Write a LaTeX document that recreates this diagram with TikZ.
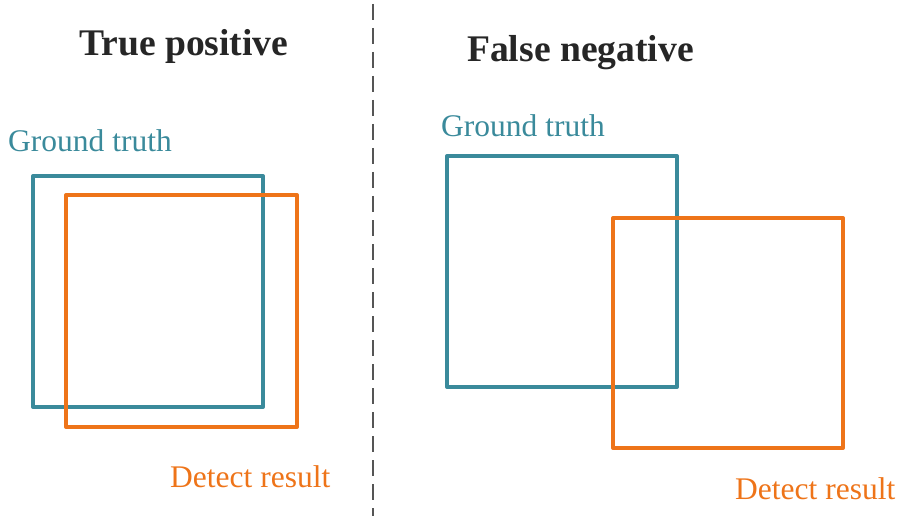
\documentclass[tikz,border=0pt]{standalone}
\usepackage{fontspec}
\setmainfont{Liberation Serif}
\definecolor{gtcol}{HTML}{3A8A9B}
\definecolor{drcol}{HTML}{EE7419}
\definecolor{titlecol}{HTML}{262626}
\definecolor{dashcol}{HTML}{555555}
\tikzset{
  gtbox/.style={draw=gtcol, line width=4pt, line join=round, inner sep=0pt, outer sep=0pt, anchor=north west},
  drbox/.style={draw=drcol, line width=4pt, line join=round, inner sep=0pt, outer sep=0pt, anchor=north west},
  titletext/.style={anchor=base west, inner sep=0pt, text=titlecol, font=\fontsize{37.6}{40}\selectfont\bfseries},
  gtlabel/.style={anchor=base west, inner sep=0pt, text=gtcol, font=\fontsize{31.5}{34}\selectfont},
  drlabel/.style={anchor=base west, inner sep=0pt, text=drcol, font=\fontsize{31.5}{34}\selectfont},
  divider/.style={draw=dashcol, line width=2pt, dash pattern=on 16pt off 8pt}
}
\begin{document}
\begin{tikzpicture}[x=1pt,y=-1pt]
\useasboundingbox (0,0) rectangle (900,516);
% divider
\coordinate (dtop) at (373,4);
\coordinate (dbot) at (373,516);
\draw[divider] (dtop) -- (dbot);
% titles
\node[titletext] (t1) at (79,56) {True positive};
\node[titletext] (t2) at (467,62) {False negative};
% left panel
\node[gtbox, minimum width=230pt, minimum height=231pt] (gt1) at (33,176) {};
\node[drbox, minimum width=231pt, minimum height=232pt] (dr1) at (66,195) {};
\node[gtlabel] (lg1) at (8,152) {Ground truth};
\node[drlabel] (ld1) at (170,487) {Detect result};
% right panel
\node[gtbox, minimum width=230pt, minimum height=231pt] (gt2) at (447,156) {};
\node[drbox, minimum width=230pt, minimum height=230pt] (dr2) at (613,218) {};
\node[gtlabel] (lg2) at (441,137) {Ground truth};
\node[drlabel] (ld2) at (735,499) {Detect result};
\end{tikzpicture}
\end{document}
